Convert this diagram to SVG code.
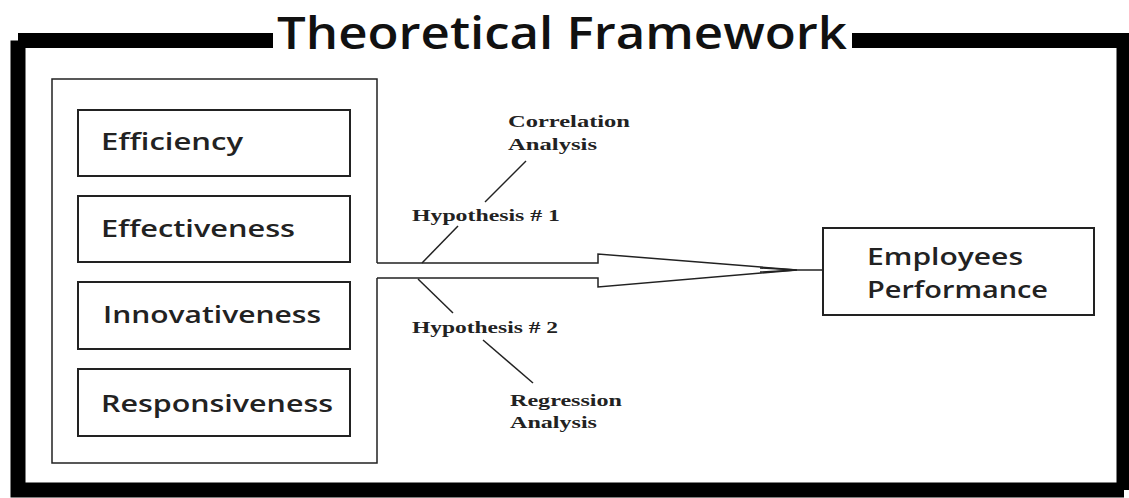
<svg xmlns="http://www.w3.org/2000/svg" width="1129" height="498" viewBox="0 0 1129 498">
<style>
.box{fill:#fff;stroke:#222;stroke-width:2}
.lbl{font-family:"Open Sans","Liberation Sans",sans-serif;font-weight:600;font-size:24px;fill:#222}
.ser{font-family:"Liberation Serif","DejaVu Serif",serif;font-weight:bold;font-size:17px;fill:#222}
.ln{fill:none;stroke:#222;stroke-width:1.5}
</style>
<rect width="1129" height="498" fill="#fff"/>
<g id="frame">
<path d="M18,40.5 H273 M852,40.5 H1124 M1124,33 V490 M18,40.5 V490 H1124" fill="none" stroke="#000" stroke-width="15"/>
<text x="277" y="49" font-family="'Open Sans','Liberation Sans',sans-serif" font-weight="600" font-size="45" fill="#111" textLength="570" lengthAdjust="spacingAndGlyphs">Theoretical Framework</text>
</g>
<g id="container">
<path class="ln" d="M377,263 V79 H52 V463 H377 V278"/>
</g>
<g id="efficiency"><rect class="box" x="78" y="110" width="272" height="66"/><text class="lbl" x="101" y="150" textLength="142" lengthAdjust="spacingAndGlyphs">Efficiency</text></g>
<g id="effectiveness"><rect class="box" x="78" y="196" width="272" height="66"/><text class="lbl" x="101" y="237" textLength="194" lengthAdjust="spacingAndGlyphs">Effectiveness</text></g>
<g id="innovativeness"><rect class="box" x="78" y="282" width="272" height="67"/><text class="lbl" x="103" y="323" textLength="218" lengthAdjust="spacingAndGlyphs">Innovativeness</text></g>
<g id="responsiveness"><rect class="box" x="78" y="369" width="272" height="67"/><text class="lbl" x="101" y="412" textLength="232" lengthAdjust="spacingAndGlyphs">Responsiveness</text></g>
<g id="employees"><rect class="box" x="823" y="228" width="271" height="87"/><text class="lbl" x="867" y="265" textLength="156" lengthAdjust="spacingAndGlyphs">Employees</text><text class="lbl" x="867" y="298" textLength="181" lengthAdjust="spacingAndGlyphs">Performance</text></g>
<g id="connectors">
<path class="ln" d="M377,263 H598 V254 L797,270 L598,287 V278 H377"/>
<path class="ln" d="M760,268 L797,270 L760,272"/>
<path class="ln" d="M797,270 H823"/>
<path class="ln" d="M422,263 L458,226"/>
<path class="ln" d="M485,202 L526,161"/>
<path class="ln" d="M418,279 L453,313"/>
<path class="ln" d="M483,340 L533,383"/>
</g>
<g id="labels">
<text class="ser" x="508" y="127" textLength="122" lengthAdjust="spacingAndGlyphs">Correlation</text>
<text class="ser" x="508" y="150" textLength="89" lengthAdjust="spacingAndGlyphs">Analysis</text>
<text class="ser" x="412" y="221" textLength="148" lengthAdjust="spacingAndGlyphs">Hypothesis # 1</text>
<text class="ser" x="412" y="333" textLength="146" lengthAdjust="spacingAndGlyphs">Hypothesis # 2</text>
<text class="ser" x="510" y="406" textLength="112" lengthAdjust="spacingAndGlyphs">Regression</text>
<text class="ser" x="510" y="428" textLength="87" lengthAdjust="spacingAndGlyphs">Analysis</text>
</g>
</svg>
